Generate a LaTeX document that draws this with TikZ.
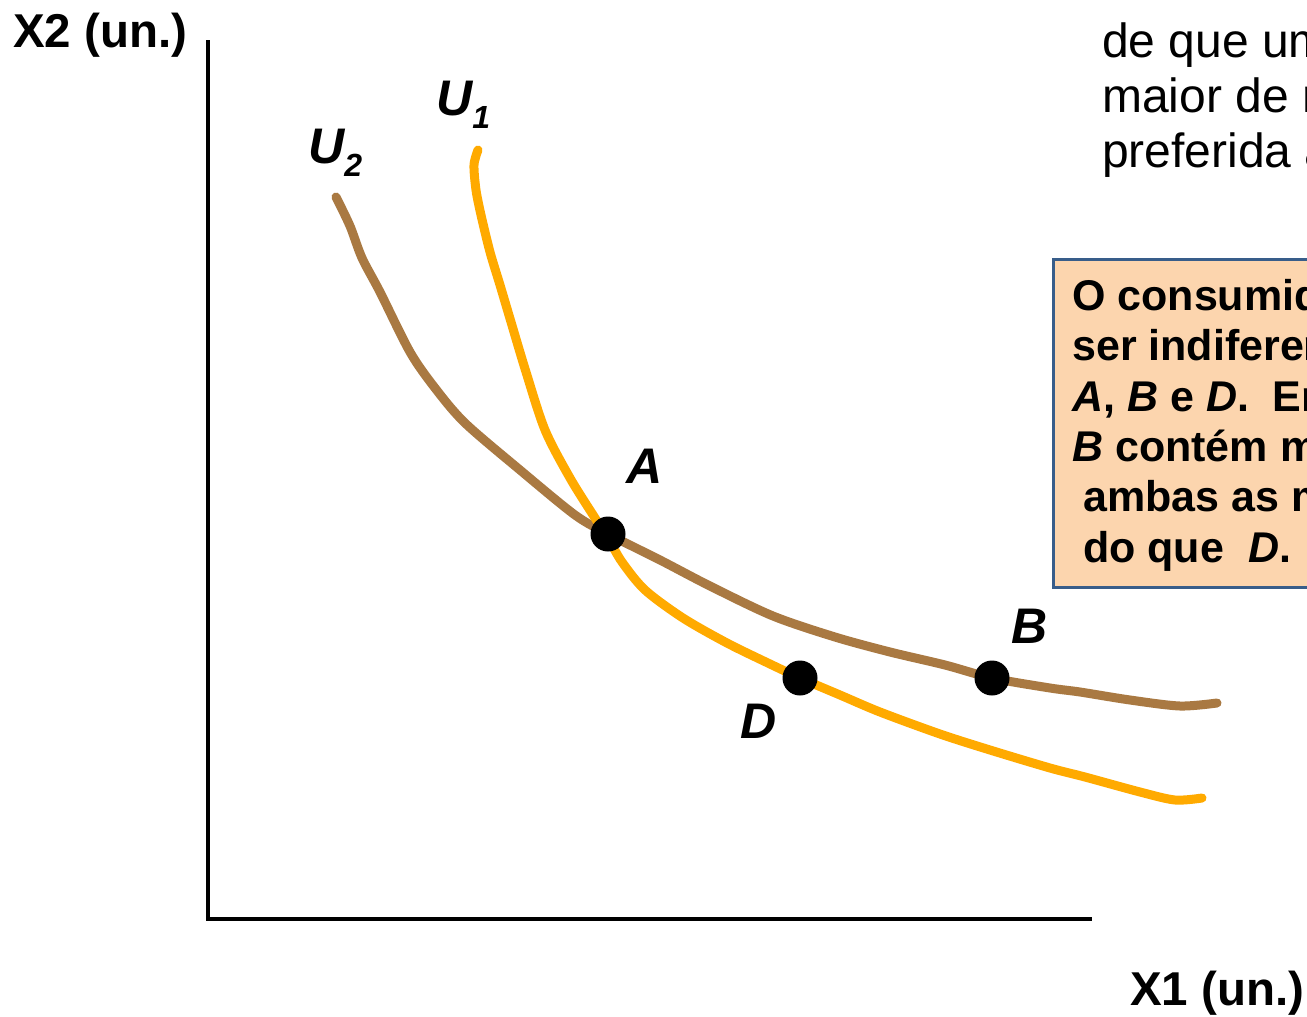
\documentclass[tikz,border=0pt]{standalone}
\usepackage{fontspec}
\setmainfont{Liberation Sans}
\definecolor{ubrown}{RGB}{169,121,66}
\definecolor{uorange}{RGB}{255,170,0}
\definecolor{boxfill}{RGB}{252,213,174}
\definecolor{boxline}{RGB}{56,93,138}
\tikzset{
  dot/.style={circle,fill=black,minimum size=35pt,inner sep=0pt},
  curve/.style={line width=9pt,line cap=round,line join=round},
  axis/.style={line width=4.5pt},
  lbl/.style={anchor=base west,inner sep=0pt,font=\fontsize{50}{50}\selectfont\bfseries\itshape},
  axlbl/.style={anchor=base west,inner sep=0pt,font=\fontsize{47.5}{47.5}\selectfont\bfseries},
  toptxt/.style={anchor=base west,inner sep=0pt,font=\fontsize{48}{48}\selectfont},
  boxtxt/.style={anchor=base west,inner sep=0pt,font=\fontsize{43}{43}\selectfont\bfseries},
}
\newcommand{\subn}[1]{\raisebox{-13pt}{\fontsize{32}{32}\selectfont #1}}
\begin{document}
\begin{tikzpicture}[x=1pt,y=-1pt]
\useasboundingbox (0,0) rectangle (1307,1017);
\clip (0,0) rectangle (1307,1017);
% axes
\coordinate (ytop) at (208,40);
\coordinate (ybot) at (208,919);
\coordinate (xl) at (206,919);
\coordinate (xr) at (1092,919);
\draw[axis] (ytop) -- (ybot);
\draw[axis] (xl) -- (xr);
\node[axlbl] (x2lbl) at (13,47) {X2 (un.)};
\node[axlbl] (x1lbl) at (1130,1005) {X1 (un.)};
% curves
\draw[curve,ubrown] plot[smooth,tension=0.5] coordinates {(336,197) (350,226) (362,258) (380,292) (410,352) (435,388) (465,423) (520,470) (575,515) (608,534) (660,560) (710,586) (773,616) (835,637) (890,652) (945,665) (992,678) (1050,688) (1080,692) (1130,700) (1180,706) (1217,703)};
\draw[curve,uorange] plot[smooth,tension=0.5] coordinates {(478,150) (474,165) (476,190) (481,215) (490,252) (500,285) (511,322) (526,372) (545,430) (570,478) (595,518) (608,538) (622,562) (645,590) (683,618) (727,643) (770,664) (800,678) (840,695) (880,712) (940,734) (990,750) (1050,768) (1085,777) (1140,792) (1175,800) (1202,798)};
% points
\node[dot] (A) at (608,534) {};
\node[dot] (D) at (800,678) {};
\node[dot] (B) at (992,678) {};
\node[lbl] (Albl) at (626,483) {A};
\node[lbl] (Dlbl) at (740,738) {D};
\node[lbl] (Blbl) at (1011,643) {B};
\node[lbl] (U1lbl) at (436,115) {U\subn{1}};
\node[lbl] (U2lbl) at (308,163) {U\subn{2}};
% top text
\node[toptxt] (t1) at (1102,57) {de que uma};
\node[toptxt] (t2) at (1102,112) {maior de me};
\node[toptxt] (t3) at (1102,167) {preferida a};
% box
\node[draw=boxline,fill=boxfill,line width=2.5pt,anchor=north west,minimum width=320pt,minimum height=328pt,inner sep=0pt] (box) at (1052,258) {};
\node[boxtxt] (b1) at (1072,310) {O consumidor};
\node[boxtxt] (b2) at (1072,360) {ser indiferente};
\node[boxtxt] (b3) at (1072,411) {\textit{A}, \textit{B} e \textit{D}.\ \ Em};
\node[boxtxt] (b4) at (1072,461) {\textit{B} contém ma};
\node[boxtxt] (b5) at (1083,511) {ambas as me};
\node[boxtxt] (b6) at (1083,562) {do que\ \ \textit{D}.};
\end{tikzpicture}
\end{document}
